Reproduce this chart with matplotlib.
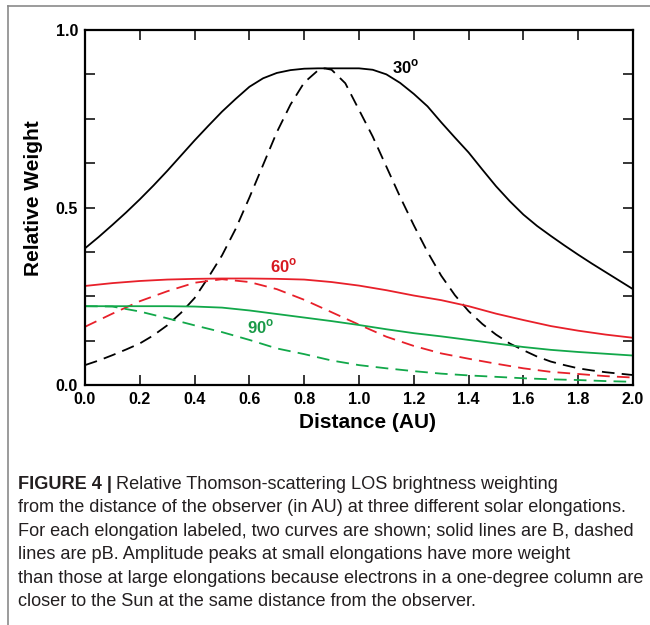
import numpy as np
import matplotlib
matplotlib.use("Agg")
import matplotlib.pyplot as plt
from matplotlib.lines import Line2D

plt.rcParams["font.family"] = ["Liberation Sans", "DejaVu Sans"]
plt.rcParams["mathtext.fontset"] = "custom"
plt.rcParams["mathtext.rm"] = "Liberation Sans"
plt.rcParams["mathtext.bf"] = "Liberation Sans:bold"

# distance from observer (AU)
dist = [0.0, 0.1, 0.2, 0.3, 0.4, 0.5, 0.6, 0.7, 0.8, 0.9, 1.0,
        1.1, 1.2, 1.3, 1.4, 1.5, 1.6, 1.7, 1.8, 1.9, 2.0]
dist_fine = [0.0, 0.05, 0.1, 0.15, 0.2, 0.25, 0.3, 0.35, 0.4, 0.45, 0.5, 0.55,
             0.6, 0.65, 0.7, 0.75, 0.8, 0.85, 0.9, 0.95, 1.0, 1.05, 1.1, 1.15,
             1.2, 1.25, 1.3, 1.35, 1.4, 1.45, 1.5, 1.55, 1.6, 1.65, 1.7, 1.75,
             1.8, 1.85, 1.9, 1.95, 2.0]
dist_pb30 = [0.0, 0.05, 0.1, 0.15, 0.2, 0.25, 0.3, 0.35, 0.4, 0.45, 0.5, 0.55,
             0.6, 0.65, 0.7, 0.75, 0.8, 0.85, 0.875, 0.9, 0.95, 1.0, 1.05, 1.1, 1.15,
             1.2, 1.25, 1.3, 1.35, 1.4, 1.45, 1.5, 1.55, 1.6, 1.65, 1.7, 1.75,
             1.8, 1.85, 1.9, 1.95, 2.0]

# 30 deg elongation
b30 = [0.385, 0.417, 0.451, 0.486, 0.523, 0.562, 0.603, 0.646, 0.689, 0.73, 0.77, 0.806,
       0.84, 0.864, 0.879, 0.887, 0.891, 0.892, 0.892, 0.892, 0.892, 0.888, 0.875, 0.851,
       0.82, 0.785, 0.74, 0.697, 0.655, 0.607, 0.56, 0.518, 0.48, 0.448, 0.42, 0.393,
       0.367, 0.342, 0.318, 0.294, 0.27]
pb30 = [0.056, 0.069, 0.084, 0.1, 0.117, 0.14, 0.168, 0.203, 0.245, 0.303, 0.365, 0.44,
        0.528, 0.62, 0.712, 0.79, 0.852, 0.886, 0.892, 0.888, 0.85, 0.775, 0.7, 0.615, 0.53,
        0.45, 0.375, 0.308, 0.253, 0.208, 0.172, 0.142, 0.117, 0.098, 0.08, 0.066, 0.056,
        0.047, 0.041, 0.036, 0.032, 0.028]

# 60 deg elongation
b60 = [0.279, 0.287, 0.293, 0.297, 0.299, 0.3, 0.3, 0.299, 0.297, 0.29, 0.28,
       0.267, 0.252, 0.239, 0.222, 0.201, 0.183, 0.166, 0.153, 0.142, 0.133]
pb60 = [0.164, 0.201, 0.236, 0.264, 0.288, 0.298, 0.29, 0.27, 0.24, 0.205, 0.17,
        0.136, 0.11, 0.089, 0.074, 0.06, 0.047, 0.037, 0.031, 0.025, 0.021]

# 90 deg elongation
b90 = [0.222, 0.222, 0.222, 0.222, 0.221, 0.218, 0.21, 0.2, 0.19, 0.18, 0.169,
       0.157, 0.146, 0.137, 0.127, 0.117, 0.107, 0.099, 0.093, 0.088, 0.083]
pb90 = [0.222, 0.221, 0.207, 0.188, 0.168, 0.149, 0.127, 0.103, 0.087, 0.069, 0.056,
        0.047, 0.039, 0.032, 0.027, 0.023, 0.019, 0.016, 0.014, 0.011, 0.009]

red = "#e8202a"
green = "#12a84a"

fig = plt.figure(figsize=(6.5, 6.25), dpi=100)
ax = fig.add_axes([85 / 650, 1 - 385 / 625, 548 / 650, 355 / 625])

dash = (7, 4)
ax.plot(dist_fine, b30, color="black", lw=1.3)
ax.plot(dist_pb30, pb30, color="black", lw=1.3, dashes=dash)
ax.plot(dist, b60, color=red, lw=1.3)
ax.plot(dist, pb60, color=red, lw=1.3, dashes=dash)
ax.plot(dist, b90, color=green, lw=1.3)
ax.plot(dist, pb90, color=green, lw=1.3, dashes=dash)

lab_font = dict(fontsize=12, fontweight="bold", va="baseline")
ax.text(1.12, 0.879, r"30$^\mathbf{o}$", color="black", **lab_font)
ax.text(0.675, 0.318, r"60$^\mathbf{o}$", color="#d71920", **lab_font)
ax.text(0.59, 0.146, r"90$^\mathbf{o}$", color="#1a9a48", **lab_font)

ax.set_xlim(0, 2.0)
ax.set_ylim(0, 1.0)
ax.set_xticks(np.arange(0, 2.01, 0.2))
ax.set_xticklabels(["%.1f" % v for v in np.arange(0, 2.01, 0.2)])
yt = np.arange(0, 1.001, 0.125)
ax.set_yticks(yt)
ax.set_yticklabels(["%.1f" % v if v in (0.0, 0.5, 1.0) else "" for v in yt])
ax.tick_params(direction="in", length=7, width=1.1, top=True, right=True,
               labelsize=11.5, pad=5)
for lbl in ax.get_xticklabels() + ax.get_yticklabels():
    lbl.set_fontweight("bold")
for sp in ax.spines.values():
    sp.set_linewidth(1.6)

ax.set_xlabel("Distance (AU)", fontsize=15, fontweight="bold")
ax.set_ylabel("Relative Weight", fontsize=15, fontweight="bold")
ax.xaxis.set_label_coords(0.515, -0.08)
ax.yaxis.set_label_coords(-0.076, 0.525)

# page frame lines (top and left)
fig.add_artist(Line2D([8 / 650, 1.0], [1 - 6 / 625, 1 - 6 / 625], color="#8a8a8a", lw=1.2))
fig.add_artist(Line2D([8 / 650, 8 / 650], [0.0, 1 - 6 / 625], color="#8a8a8a", lw=1.2))

# caption
cap_size = 13.1
cap_color = "#231f20"
x0 = 18 / 650
t = fig.text(x0, 1 - 489 / 625, "FIGURE 4 |", fontsize=cap_size, fontweight="bold",
             va="baseline", color=cap_color)
fig.canvas.draw()
bb = t.get_window_extent()
fig.text(bb.x1 / fig.bbox.width + 4 / 650, 1 - 489 / 625,
         "Relative Thomson-scattering LOS brightness weighting",
         fontsize=cap_size, va="baseline", color=cap_color)
cap_lines = [
    "from the distance of the observer (in AU) at three different solar elongations.",
    "For each elongation labeled, two curves are shown; solid lines are B, dashed",
    "lines are pB. Amplitude peaks at small elongations have more weight",
    "than those at large elongations because electrons in a one-degree column are",
    "closer to the Sun at the same distance from the observer.",
]
cap_y = [512, 536, 559, 583, 606]
for line, yy in zip(cap_lines, cap_y):
    fig.text(x0, 1 - yy / 625, line, fontsize=cap_size, va="baseline", color=cap_color)

fig.savefig("out.png", dpi=100)
